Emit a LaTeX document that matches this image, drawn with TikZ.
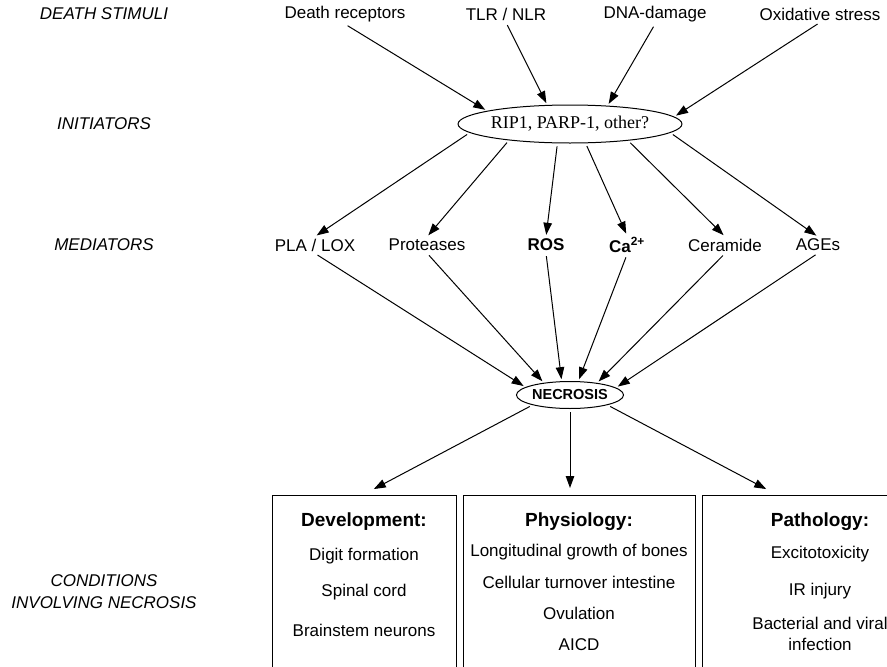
\documentclass[tikz,border=0pt]{standalone}
\usepackage{fontspec}
\setmainfont{Liberation Sans}
\newfontfamily\rmserif{Liberation Serif}
\usetikzlibrary{arrows.meta,shapes.geometric}
\begin{document}
\begin{tikzpicture}[x=1pt,y=-1pt,
  txt/.style={font=\fontsize{17}{20}\selectfont, inner sep=2pt},
  lab/.style={font=\fontsize{17}{22}\selectfont\itshape, align=center},
  hdr/.style={font=\fontsize{19}{22}\selectfont\bfseries, inner sep=2pt},
  arr/.style={-{Triangle[length=12pt,width=8.5pt]}, line width=1pt, shorten >=2pt, shorten <=3pt},
  oval/.style={ellipse, draw, line width=1pt, inner sep=0pt},
  frame/.style={line width=1pt}
]
\clip (0,0) rectangle (887,667);

% row labels
\node[lab] (l1) at (104,14) {DEATH STIMULI};
\node[lab] (l2) at (104,124) {INITIATORS};
\node[lab] (l3) at (104,245) {MEDIATORS};
\node[lab] (l4) at (104,592) {CONDITIONS\\INVOLVING NECROSIS};

% death stimuli
\node[txt] (dr)  at (345,14) {Death receptors};
\node[txt] (tlr) at (506,14) {TLR / NLR};
\node[txt] (dna) at (655,14) {DNA-damage};
\node[txt] (ox)  at (820,14) {Oxidative stress};

% initiators
\node[oval, minimum width=204pt, minimum height=38pt,
      font=\rmserif\fontsize{18}{20}\selectfont] (rip) at (570,124) {RIP1, PARP-1, other?};

% mediators
\node[txt] (pla)  at (315,245) {PLA / LOX};
\node[txt] (pro)  at (427,245) {Proteases};
\node[txt] (ros)  at (546,245) {\bfseries ROS};
\node[txt] (ca)   at (627,245) {\bfseries Ca\textsuperscript{2+}};
\node[txt] (cer)  at (725,245) {Ceramide};
\node[txt] (age)  at (818,245) {AGEs};

% necrosis
\node[oval, minimum width=92pt, minimum height=27pt,
      font=\fontsize{14.5}{16}\selectfont\bfseries] (nec) at (570,395) {NECROSIS};

% condition boxes (open at the bottom)
\draw[frame] (272,667) -- (272,495) -- (456,495) -- (456,667);
\draw[frame] (463,667) -- (463,495) -- (695,495) -- (695,667);
\draw[frame] (702,667) -- (702,495) -- (940,495) -- (940,667);

\coordinate (tdev)  at (372,490);
\coordinate (tphys) at (570,490);
\coordinate (tpath) at (768,490);

\node[hdr] (dev) at (364,522) {Development:};
\node[txt] (d1) at (364,556) {Digit formation};
\node[txt] (d2) at (364,592) {Spinal cord};
\node[txt] (d3) at (364,630) {Brainstem neurons};

\node[hdr] (phy) at (579,522) {Physiology:};
\node[txt] (p1) at (579,552) {Longitudinal growth of bones};
\node[txt] (p2) at (579,582) {Cellular turnover intestine};
\node[txt] (p3) at (579,613) {Ovulation};
\node[txt] (p4) at (579,645) {AICD};

\node[hdr] (pat) at (820,522) {Pathology:};
\node[txt] (q1) at (820,554) {Excitotoxicity};
\node[txt] (q2) at (820,591) {IR injury};
\node[txt, align=center, font=\fontsize{17}{21}\selectfont] (q3) at (820,634) {Bacterial and viral\\infection};

% stimuli -> initiators
\draw[arr] (dr.south)  -- (rip.171);
\draw[arr] (tlr.south) -- (rip.140);
\draw[arr] (dna.south) -- (rip.26);
\draw[arr] (ox.south)  -- (rip.4);

% initiators -> mediators
\draw[arr] (rip.185)   -- (pla.north);
\draw[arr] (rip.195.5) -- (pro.north);
\draw[arr] (rip.237)   -- (ros.north);
\draw[arr] (rip.309)   -- (ca.north);
\draw[arr] (rip.344)   -- (cer.north);
\draw[arr] (rip.355)   -- (age.north);

% mediators -> necrosis
\draw[arr] (pla.south) -- (nec.170);
\draw[arr] (pro.south) -- (nec.155);
\draw[arr] (ros.south) -- (nec.121);
\draw[arr] (ca.south)  -- (nec.59);
\draw[arr] (cer.south) -- (nec.24);
\draw[arr] (age.south) -- (nec.9);

% necrosis -> conditions
\draw[arr] (nec.195) -- (tdev);
\draw[arr] (nec.south) -- (tphys);
\draw[arr] (nec.345) -- (tpath);
\end{tikzpicture}
\end{document}
